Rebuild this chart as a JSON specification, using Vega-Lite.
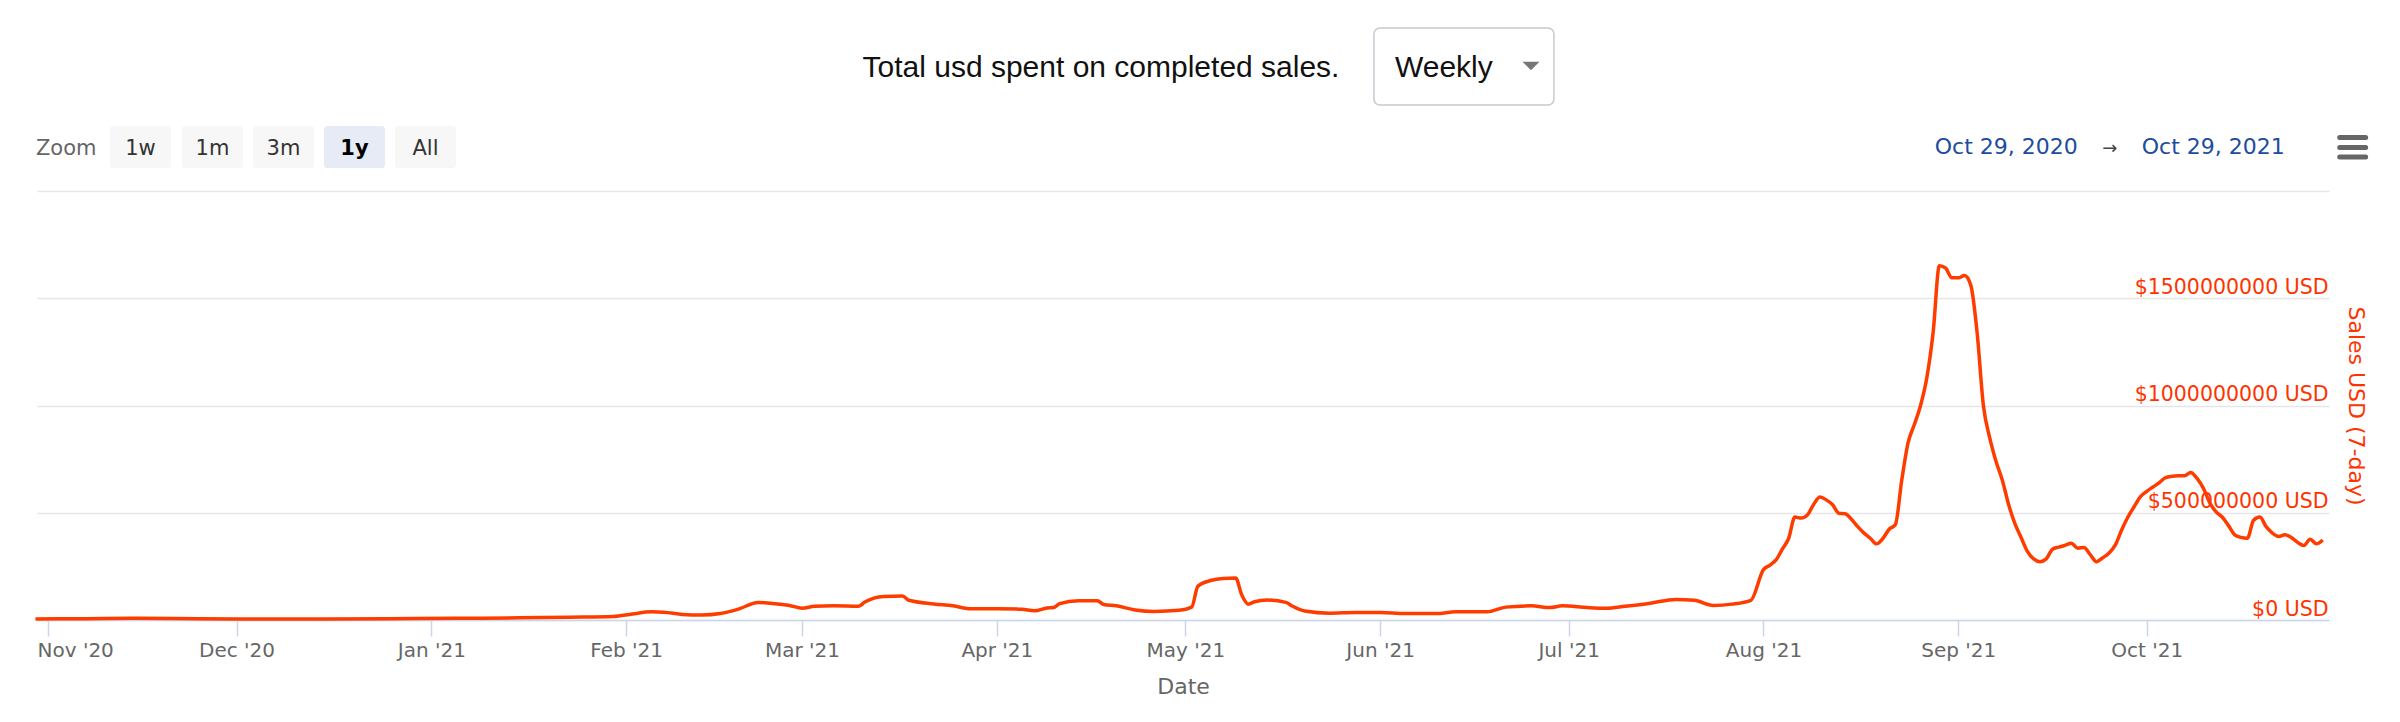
{
  "$schema": "https://vega.github.io/schema/vega-lite/v6.json",
  "description": "Total usd spent on completed sales, 7-day rolling, weekly view",
  "width": 2292,
  "height": 429,
  "autosize": "none",
  "padding": {"left": 37, "top": 191, "right": 71, "bottom": 102},
  "background": "white",
  "config": {
    "view": {"stroke": null},
    "font": "DejaVu Sans"
  },
  "datasets": {
    "sales": [
      {"date": "2020-10-30", "usd": 5000000},
      {"date": "2020-11-07", "usd": 6000000},
      {"date": "2020-11-15", "usd": 8000000},
      {"date": "2020-11-25", "usd": 6000000},
      {"date": "2020-12-05", "usd": 5000000},
      {"date": "2020-12-15", "usd": 5000000},
      {"date": "2020-12-25", "usd": 6000000},
      {"date": "2021-01-05", "usd": 8000000},
      {"date": "2021-01-15", "usd": 10000000},
      {"date": "2021-01-23", "usd": 13000000},
      {"date": "2021-01-30", "usd": 16000000},
      {"date": "2021-02-02", "usd": 28000000},
      {"date": "2021-02-05", "usd": 38000000},
      {"date": "2021-02-07", "usd": 36000000},
      {"date": "2021-02-10", "usd": 26000000},
      {"date": "2021-02-13", "usd": 23000000},
      {"date": "2021-02-16", "usd": 30000000},
      {"date": "2021-02-19", "usd": 52000000},
      {"date": "2021-02-22", "usd": 82000000},
      {"date": "2021-02-24", "usd": 78000000},
      {"date": "2021-02-27", "usd": 68000000},
      {"date": "2021-03-01", "usd": 55000000},
      {"date": "2021-03-03", "usd": 64000000},
      {"date": "2021-03-06", "usd": 66000000},
      {"date": "2021-03-10", "usd": 64000000},
      {"date": "2021-03-11", "usd": 84000000},
      {"date": "2021-03-14", "usd": 110000000},
      {"date": "2021-03-17", "usd": 112000000},
      {"date": "2021-03-18", "usd": 92000000},
      {"date": "2021-03-22", "usd": 75000000},
      {"date": "2021-03-25", "usd": 66000000},
      {"date": "2021-03-28", "usd": 52000000},
      {"date": "2021-04-01", "usd": 53000000},
      {"date": "2021-04-05", "usd": 50000000},
      {"date": "2021-04-07", "usd": 43000000},
      {"date": "2021-04-09", "usd": 56000000},
      {"date": "2021-04-10", "usd": 58000000},
      {"date": "2021-04-11", "usd": 76000000},
      {"date": "2021-04-14", "usd": 90000000},
      {"date": "2021-04-17", "usd": 90000000},
      {"date": "2021-04-18", "usd": 72000000},
      {"date": "2021-04-20", "usd": 66000000},
      {"date": "2021-04-23", "usd": 47000000},
      {"date": "2021-04-26", "usd": 40000000},
      {"date": "2021-04-30", "usd": 45000000},
      {"date": "2021-05-02", "usd": 60000000},
      {"date": "2021-05-03", "usd": 158000000},
      {"date": "2021-05-05", "usd": 184000000},
      {"date": "2021-05-07", "usd": 194000000},
      {"date": "2021-05-09", "usd": 196000000},
      {"date": "2021-05-10", "usd": 115000000},
      {"date": "2021-05-11", "usd": 74000000},
      {"date": "2021-05-12", "usd": 85000000},
      {"date": "2021-05-14", "usd": 93000000},
      {"date": "2021-05-17", "usd": 82000000},
      {"date": "2021-05-18", "usd": 65000000},
      {"date": "2021-05-20", "usd": 42000000},
      {"date": "2021-05-24", "usd": 32000000},
      {"date": "2021-05-28", "usd": 35000000},
      {"date": "2021-06-01", "usd": 35000000},
      {"date": "2021-06-05", "usd": 30000000},
      {"date": "2021-06-10", "usd": 30000000},
      {"date": "2021-06-13", "usd": 38000000},
      {"date": "2021-06-18", "usd": 38000000},
      {"date": "2021-06-21", "usd": 60000000},
      {"date": "2021-06-25", "usd": 66000000},
      {"date": "2021-06-28", "usd": 58000000},
      {"date": "2021-06-30", "usd": 66000000},
      {"date": "2021-07-04", "usd": 58000000},
      {"date": "2021-07-07", "usd": 55000000},
      {"date": "2021-07-10", "usd": 64000000},
      {"date": "2021-07-14", "usd": 78000000},
      {"date": "2021-07-18", "usd": 96000000},
      {"date": "2021-07-21", "usd": 92000000},
      {"date": "2021-07-24", "usd": 68000000},
      {"date": "2021-07-27", "usd": 74000000},
      {"date": "2021-07-30", "usd": 92000000},
      {"date": "2021-08-01", "usd": 235000000},
      {"date": "2021-08-02", "usd": 255000000},
      {"date": "2021-08-03", "usd": 280000000},
      {"date": "2021-08-04", "usd": 330000000},
      {"date": "2021-08-05", "usd": 380000000},
      {"date": "2021-08-06", "usd": 480000000},
      {"date": "2021-08-07", "usd": 475000000},
      {"date": "2021-08-08", "usd": 490000000},
      {"date": "2021-08-09", "usd": 540000000},
      {"date": "2021-08-10", "usd": 573000000},
      {"date": "2021-08-11", "usd": 560000000},
      {"date": "2021-08-12", "usd": 537000000},
      {"date": "2021-08-13", "usd": 498000000},
      {"date": "2021-08-14", "usd": 495000000},
      {"date": "2021-08-15", "usd": 470000000},
      {"date": "2021-08-16", "usd": 435000000},
      {"date": "2021-08-17", "usd": 405000000},
      {"date": "2021-08-18", "usd": 381000000},
      {"date": "2021-08-19", "usd": 355000000},
      {"date": "2021-08-20", "usd": 380000000},
      {"date": "2021-08-21", "usd": 423000000},
      {"date": "2021-08-22", "usd": 445000000},
      {"date": "2021-08-23", "usd": 650000000},
      {"date": "2021-08-24", "usd": 825000000},
      {"date": "2021-08-25", "usd": 910000000},
      {"date": "2021-08-26", "usd": 1000000000},
      {"date": "2021-08-27", "usd": 1130000000},
      {"date": "2021-08-28", "usd": 1340000000},
      {"date": "2021-08-29", "usd": 1652000000},
      {"date": "2021-08-30", "usd": 1640000000},
      {"date": "2021-08-31", "usd": 1595000000},
      {"date": "2021-09-01", "usd": 1595000000},
      {"date": "2021-09-02", "usd": 1606000000},
      {"date": "2021-09-03", "usd": 1560000000},
      {"date": "2021-09-04", "usd": 1340000000},
      {"date": "2021-09-05", "usd": 1000000000},
      {"date": "2021-09-06", "usd": 850000000},
      {"date": "2021-09-07", "usd": 740000000},
      {"date": "2021-09-08", "usd": 653000000},
      {"date": "2021-09-09", "usd": 540000000},
      {"date": "2021-09-10", "usd": 450000000},
      {"date": "2021-09-11", "usd": 385000000},
      {"date": "2021-09-12", "usd": 320000000},
      {"date": "2021-09-13", "usd": 285000000},
      {"date": "2021-09-14", "usd": 272000000},
      {"date": "2021-09-15", "usd": 285000000},
      {"date": "2021-09-16", "usd": 330000000},
      {"date": "2021-09-17", "usd": 340000000},
      {"date": "2021-09-18", "usd": 348000000},
      {"date": "2021-09-19", "usd": 358000000},
      {"date": "2021-09-20", "usd": 335000000},
      {"date": "2021-09-21", "usd": 338000000},
      {"date": "2021-09-22", "usd": 305000000},
      {"date": "2021-09-23", "usd": 272000000},
      {"date": "2021-09-24", "usd": 290000000},
      {"date": "2021-09-25", "usd": 312000000},
      {"date": "2021-09-26", "usd": 350000000},
      {"date": "2021-09-27", "usd": 420000000},
      {"date": "2021-09-28", "usd": 480000000},
      {"date": "2021-09-29", "usd": 529000000},
      {"date": "2021-09-30", "usd": 575000000},
      {"date": "2021-10-01", "usd": 600000000},
      {"date": "2021-10-02", "usd": 620000000},
      {"date": "2021-10-03", "usd": 640000000},
      {"date": "2021-10-04", "usd": 664000000},
      {"date": "2021-10-05", "usd": 670000000},
      {"date": "2021-10-06", "usd": 672000000},
      {"date": "2021-10-07", "usd": 672000000},
      {"date": "2021-10-08", "usd": 688000000},
      {"date": "2021-10-09", "usd": 660000000},
      {"date": "2021-10-10", "usd": 615000000},
      {"date": "2021-10-11", "usd": 548000000},
      {"date": "2021-10-12", "usd": 505000000},
      {"date": "2021-10-13", "usd": 480000000},
      {"date": "2021-10-14", "usd": 440000000},
      {"date": "2021-10-15", "usd": 397000000},
      {"date": "2021-10-16", "usd": 385000000},
      {"date": "2021-10-17", "usd": 381000000},
      {"date": "2021-10-18", "usd": 465000000},
      {"date": "2021-10-19", "usd": 480000000},
      {"date": "2021-10-20", "usd": 435000000},
      {"date": "2021-10-21", "usd": 405000000},
      {"date": "2021-10-22", "usd": 389000000},
      {"date": "2021-10-23", "usd": 397000000},
      {"date": "2021-10-24", "usd": 385000000},
      {"date": "2021-10-25", "usd": 362000000},
      {"date": "2021-10-26", "usd": 347000000},
      {"date": "2021-10-27", "usd": 377000000},
      {"date": "2021-10-28", "usd": 355000000},
      {"date": "2021-10-29", "usd": 373000000}
    ]
  },
  "layer": [
    {
      "data": {"name": "sales"},
      "mark": {"type": "line", "color": "#ff3c00", "strokeWidth": 3.5, "interpolate": "monotone"},
      "encoding": {
        "x": {
          "field": "date",
          "type": "temporal",
          "scale": {
            "domain": [{"year": 2020, "month": 10, "date": 30, "hours": 6}, {"year": 2021, "month": 10, "date": 30}],
            "nice": false
          },
          "axis": {
            "title": "Date",
            "format": "%b '%y",
            "tickCount": {"interval": "month", "step": 1},
            "grid": false,
            "domainColor": "#ccd6eb",
            "domainWidth": 1.5,
            "tickColor": "#ccd6eb",
            "tickWidth": 1.5,
            "tickSize": 16,
            "labelColor": "#666666",
            "labelFontSize": 20,
            "labelBaseline": "alphabetic",
            "labelPadding": 20,
            "labelFlush": 15,
            "labelFlushOffset": 11,
            "titleColor": "#666666",
            "titleFontSize": 22,
            "titleFontWeight": "normal",
            "titleBaseline": "alphabetic",
            "titleY": 73
          }
        },
        "y": {
          "field": "usd",
          "type": "quantitative",
          "scale": {"domain": [0, 2000000000], "nice": false, "zero": true},
          "axis": {
            "title": "Sales USD (7-day)",
            "orient": "right",
            "values": [0, 500000000, 1000000000, 1500000000, 2000000000],
            "labelExpr": "datum.value >= 2000000000 ? '' : '$' + format(datum.value, 'd') + ' USD'",
            "domain": false,
            "ticks": false,
            "tickSize": 0,
            "grid": true,
            "gridColor": "#e6e6e6",
            "gridWidth": 1.5,
            "labelAlign": "right",
            "labelBaseline": "alphabetic",
            "labelPadding": -1,
            "labelOffset": -5,
            "labelLimit": 0,
            "labelColor": "#ff3300",
            "labelFontSize": 20.5,
            "titleColor": "#ff3300",
            "titleFontSize": 22,
            "titleFontWeight": "normal",
            "titleAngle": 90,
            "titleAlign": "center",
            "titleBaseline": "middle",
            "titleX": 26,
            "titleY": 214.5
          }
        }
      }
    },
    {
      "data": {"values": [{}]},
      "mark": {"type": "text", "text": "Total usd spent on completed sales.", "font": "Liberation Sans", "fontSize": 30, "color": "#111111", "align": "center", "baseline": "alphabetic", "clip": false},
      "encoding": {
        "x": {"datum": {"year": 2021, "month": 4, "date": 17, "hours": 13, "minutes": 41}, "type": "temporal"},
        "y": {"datum": 2531500000, "type": "quantitative"}
      }
    },
    {
      "data": {"values": [{}]},
      "mark": {"type": "rect", "fill": "white", "stroke": "#c8c8d0", "strokeWidth": 1.5, "cornerRadius": 6, "clip": false},
      "encoding": {
        "x": {"datum": {"year": 2021, "month": 5, "date": 31, "hours": 0, "minutes": 14}, "type": "temporal"},
        "x2": {"datum": {"year": 2021, "month": 6, "date": 28, "hours": 15, "minutes": 50}},
        "y": {"datum": 2759900000, "type": "quantitative"},
        "y2": {"datum": 2400900000}
      }
    },
    {
      "data": {"values": [{}]},
      "mark": {"type": "text", "text": "Weekly", "font": "Liberation Sans", "fontSize": 30, "color": "#111111", "align": "left", "baseline": "alphabetic", "clip": false},
      "encoding": {
        "x": {"datum": {"year": 2021, "month": 6, "date": 3, "hours": 8, "minutes": 38}, "type": "temporal"},
        "y": {"datum": 2531500000, "type": "quantitative"}
      }
    },
    {
      "data": {"values": [{}]},
      "mark": {"type": "point", "shape": "M-1,-0.5L1,-0.5L0,0.5Z", "size": 289, "filled": true, "fill": "#777777", "strokeWidth": 0, "opacity": 1, "clip": false},
      "encoding": {
        "x": {"datum": {"year": 2021, "month": 6, "date": 25}, "type": "temporal"},
        "y": {"datum": 2582800000, "type": "quantitative"}
      }
    },
    {
      "data": {"values": [{}]},
      "mark": {"type": "text", "text": "Zoom", "fontSize": 21, "color": "#666666", "align": "left", "baseline": "alphabetic", "clip": false},
      "encoding": {
        "x": {"datum": {"year": 2020, "month": 10, "date": 30, "hours": 2}, "type": "temporal"},
        "y": {"datum": 2167800000, "type": "quantitative"}
      }
    },
    {
      "data": {"values": [{}]},
      "mark": {"type": "rect", "fill": "#f7f7f7", "cornerRadius": 3, "clip": false},
      "encoding": {
        "x": {"datum": {"year": 2020, "month": 11, "date": 10, "hours": 20, "minutes": 47}, "type": "temporal"},
        "x2": {"datum": {"year": 2020, "month": 11, "date": 20, "hours": 13, "minutes": 45}},
        "y": {"datum": 2303000000, "type": "quantitative"},
        "y2": {"datum": 2107200000}
      }
    },
    {
      "data": {"values": [{}]},
      "mark": {"type": "rect", "fill": "#f7f7f7", "cornerRadius": 3, "clip": false},
      "encoding": {
        "x": {"datum": {"year": 2020, "month": 11, "date": 22, "hours": 7, "minutes": 44}, "type": "temporal"},
        "x2": {"datum": {"year": 2020, "month": 12, "date": 2, "hours": 0, "minutes": 43}},
        "y": {"datum": 2303000000, "type": "quantitative"},
        "y2": {"datum": 2107200000}
      }
    },
    {
      "data": {"values": [{}]},
      "mark": {"type": "rect", "fill": "#f7f7f7", "cornerRadius": 3, "clip": false},
      "encoding": {
        "x": {"datum": {"year": 2020, "month": 12, "date": 3, "hours": 14, "minutes": 53}, "type": "temporal"},
        "x2": {"datum": {"year": 2020, "month": 12, "date": 13, "hours": 7, "minutes": 55}},
        "y": {"datum": 2303000000, "type": "quantitative"},
        "y2": {"datum": 2107200000}
      }
    },
    {
      "data": {"values": [{}]},
      "mark": {"type": "rect", "fill": "#e6ebf5", "cornerRadius": 3, "clip": false},
      "encoding": {
        "x": {"datum": {"year": 2020, "month": 12, "date": 14, "hours": 22, "minutes": 5}, "type": "temporal"},
        "x2": {"datum": {"year": 2020, "month": 12, "date": 24, "hours": 15, "minutes": 7}},
        "y": {"datum": 2303000000, "type": "quantitative"},
        "y2": {"datum": 2107200000}
      }
    },
    {
      "data": {"values": [{}]},
      "mark": {"type": "rect", "fill": "#f7f7f7", "cornerRadius": 3, "clip": false},
      "encoding": {
        "x": {"datum": {"year": 2020, "month": 12, "date": 26, "hours": 5, "minutes": 17}, "type": "temporal"},
        "x2": {"datum": {"year": 2021, "month": 1, "date": 4, "hours": 22, "minutes": 19}},
        "y": {"datum": 2303000000, "type": "quantitative"},
        "y2": {"datum": 2107200000}
      }
    },
    {
      "data": {"values": [{}]},
      "mark": {"type": "text", "text": "1w", "fontSize": 21, "color": "#333333", "align": "center", "baseline": "alphabetic", "clip": false},
      "encoding": {
        "x": {"datum": {"year": 2020, "month": 11, "date": 15, "hours": 17, "minutes": 17}, "type": "temporal"},
        "y": {"datum": 2167800000, "type": "quantitative"}
      }
    },
    {
      "data": {"values": [{}]},
      "mark": {"type": "text", "text": "1m", "fontSize": 21, "color": "#333333", "align": "center", "baseline": "alphabetic", "clip": false},
      "encoding": {
        "x": {"datum": {"year": 2020, "month": 11, "date": 27, "hours": 4, "minutes": 19}, "type": "temporal"},
        "y": {"datum": 2167800000, "type": "quantitative"}
      }
    },
    {
      "data": {"values": [{}]},
      "mark": {"type": "text", "text": "3m", "fontSize": 21, "color": "#333333", "align": "center", "baseline": "alphabetic", "clip": false},
      "encoding": {
        "x": {"datum": {"year": 2020, "month": 12, "date": 8, "hours": 11, "minutes": 31}, "type": "temporal"},
        "y": {"datum": 2167800000, "type": "quantitative"}
      }
    },
    {
      "data": {"values": [{}]},
      "mark": {"type": "text", "text": "1y", "fontSize": 21, "fontWeight": "bold", "color": "#000000", "align": "center", "baseline": "alphabetic", "clip": false},
      "encoding": {
        "x": {"datum": {"year": 2020, "month": 12, "date": 19, "hours": 18, "minutes": 29}, "type": "temporal"},
        "y": {"datum": 2167800000, "type": "quantitative"}
      }
    },
    {
      "data": {"values": [{}]},
      "mark": {"type": "text", "text": "All", "fontSize": 21, "color": "#333333", "align": "center", "baseline": "alphabetic", "clip": false},
      "encoding": {
        "x": {"datum": {"year": 2020, "month": 12, "date": 31, "hours": 1, "minutes": 41}, "type": "temporal"},
        "y": {"datum": 2167800000, "type": "quantitative"}
      }
    },
    {
      "data": {"values": [{}]},
      "mark": {"type": "text", "text": "Oct 29, 2020", "fontSize": 22, "color": "#204c9e", "align": "left", "baseline": "alphabetic", "clip": false},
      "encoding": {
        "x": {"datum": {"year": 2021, "month": 8, "date": 28, "hours": 6, "minutes": 14}, "type": "temporal"},
        "y": {"datum": 2172500000, "type": "quantitative"}
      }
    },
    {
      "data": {"values": [{}]},
      "mark": {"type": "text", "text": "→", "fontSize": 18, "color": "#444444", "align": "center", "baseline": "alphabetic", "clip": false},
      "encoding": {
        "x": {"datum": {"year": 2021, "month": 9, "date": 25, "hours": 2, "minutes": 41}, "type": "temporal"},
        "y": {"datum": 2172500000, "type": "quantitative"}
      }
    },
    {
      "data": {"values": [{}]},
      "mark": {"type": "text", "text": "Oct 29, 2021", "fontSize": 22, "color": "#204c9e", "align": "left", "baseline": "alphabetic", "clip": false},
      "encoding": {
        "x": {"datum": {"year": 2021, "month": 9, "date": 30, "hours": 4, "minutes": 49}, "type": "temporal"},
        "y": {"datum": 2172500000, "type": "quantitative"}
      }
    },
    {
      "data": {"values": [{}]},
      "mark": {"type": "rule", "color": "#666666", "strokeWidth": 5, "strokeCap": "round", "clip": false},
      "encoding": {
        "x": {"datum": {"year": 2021, "month": 10, "date": 31, "hours": 17}, "type": "temporal"},
        "x2": {"datum": {"year": 2021, "month": 11, "date": 4, "hours": 20}},
        "y": {"datum": 2249400000, "type": "quantitative"}
      }
    },
    {
      "data": {"values": [{}]},
      "mark": {"type": "rule", "color": "#666666", "strokeWidth": 5, "strokeCap": "round", "clip": false},
      "encoding": {
        "x": {"datum": {"year": 2021, "month": 10, "date": 31, "hours": 17}, "type": "temporal"},
        "x2": {"datum": {"year": 2021, "month": 11, "date": 4, "hours": 20}},
        "y": {"datum": 2202800000, "type": "quantitative"}
      }
    },
    {
      "data": {"values": [{}]},
      "mark": {"type": "rule", "color": "#666666", "strokeWidth": 5, "strokeCap": "round", "clip": false},
      "encoding": {
        "x": {"datum": {"year": 2021, "month": 10, "date": 31, "hours": 17}, "type": "temporal"},
        "x2": {"datum": {"year": 2021, "month": 11, "date": 4, "hours": 20}},
        "y": {"datum": 2158500000, "type": "quantitative"}
      }
    }
  ]
}
